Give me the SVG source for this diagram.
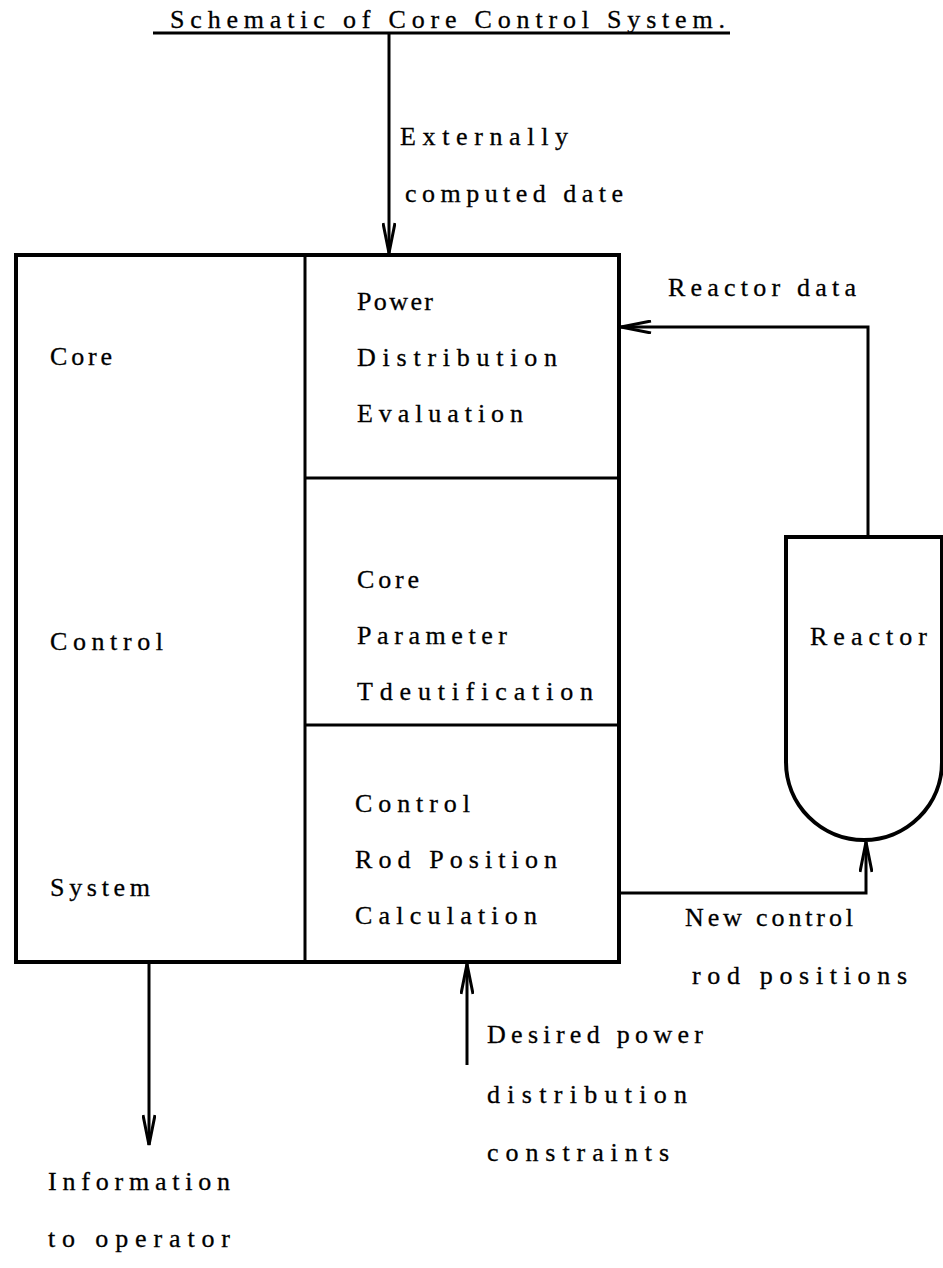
<svg xmlns="http://www.w3.org/2000/svg" width="943" height="1268" viewBox="0 0 943 1268">
<style>
text{font-family:"Liberation Serif","DejaVu Serif",serif;font-size:26px;fill:#000;stroke:#000;stroke-width:0.3}
.ln{fill:none;stroke:#000;stroke-width:3}
.box{fill:#fff;stroke:#000;stroke-width:4}
</style>
<defs>
<marker id="ah" viewBox="0 0 32 14" markerWidth="32" markerHeight="14" refX="31" refY="7" orient="auto" markerUnits="userSpaceOnUse">
<path d="M1,1 L31,7 L1,13" fill="none" stroke="#000" stroke-width="3"/>
</marker>
</defs>
<rect width="943" height="1268" fill="#fff"/>
<g id="title">
<text x="170" y="28" textLength="555" lengthAdjust="spacing">Schematic of Core Control System.</text>
<line class="ln" x1="153" y1="33" x2="730" y2="33"/>
</g>
<g id="core-control-system">
<rect class="box" x="16" y="255" width="603" height="707"/>
<line class="ln" x1="305" y1="255" x2="305" y2="962"/>
<text x="50" y="365" textLength="62" lengthAdjust="spacing">Core</text>
<text x="50" y="650" textLength="113" lengthAdjust="spacing">Control</text>
<text x="50" y="896" textLength="100" lengthAdjust="spacing">System</text>
</g>
<g id="power-distribution-evaluation">
<line class="ln" x1="305" y1="478" x2="619" y2="478"/>
<text x="357" y="310" textLength="76" lengthAdjust="spacing">Power</text>
<text x="357" y="366" textLength="200" lengthAdjust="spacing">Distribution</text>
<text x="357" y="422" textLength="166" lengthAdjust="spacing">Evaluation</text>
</g>
<g id="core-parameter-identification">
<line class="ln" x1="305" y1="725" x2="619" y2="725"/>
<text x="357" y="588" textLength="62" lengthAdjust="spacing">Core</text>
<text x="357" y="644" textLength="150" lengthAdjust="spacing">Parameter</text>
<text x="357" y="700" textLength="236" lengthAdjust="spacing">Tdeutification</text>
</g>
<g id="control-rod-position-calculation">
<text x="355" y="812" textLength="115" lengthAdjust="spacing">Control</text>
<text x="355" y="868" textLength="202" lengthAdjust="spacing">Rod Position</text>
<text x="355" y="924" textLength="182" lengthAdjust="spacing">Calculation</text>
</g>
<g id="reactor">
<path class="box" d="M786,537 H942 V762 A78,78 0 0 1 786,762 Z"/>
<text x="810" y="645" textLength="117" lengthAdjust="spacing">Reactor</text>
</g>
<g id="connectors">
<path class="ln" d="M389,33 V253" marker-end="url(#ah)"/>
<path class="ln" d="M868,537 V327 H621" marker-end="url(#ah)"/>
<path class="ln" d="M619,893 H866 V842" marker-end="url(#ah)"/>
<path class="ln" d="M149,962 V1145" marker-end="url(#ah)"/>
<path class="ln" d="M467,1065 V964" marker-end="url(#ah)"/>
</g>
<g id="labels">
<text x="400" y="145" textLength="168" lengthAdjust="spacing">Externally</text>
<text x="405" y="202" textLength="218" lengthAdjust="spacing">computed date</text>
<text x="668" y="296" textLength="188" lengthAdjust="spacing">Reactor data</text>
<text x="685" y="926" textLength="168" lengthAdjust="spacing">New control</text>
<text x="692" y="984" textLength="215" lengthAdjust="spacing">rod positions</text>
<text x="487" y="1043" textLength="216" lengthAdjust="spacing">Desired power</text>
<text x="487" y="1103" textLength="200" lengthAdjust="spacing">distribution</text>
<text x="487" y="1161" textLength="182" lengthAdjust="spacing">constraints</text>
<text x="48" y="1190" textLength="182" lengthAdjust="spacing">Information</text>
<text x="48" y="1247" textLength="182" lengthAdjust="spacing">to operator</text>
</g>
</svg>
